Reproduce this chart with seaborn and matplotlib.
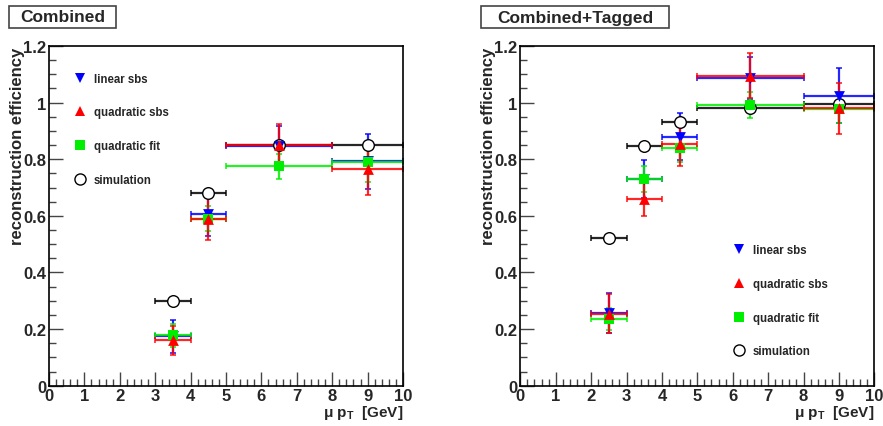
import numpy as np
import pandas as pd
import seaborn as sns
import matplotlib
matplotlib.use("Agg")
import matplotlib.pyplot as plt
from matplotlib.ticker import MultipleLocator
from matplotlib.lines import Line2D
from matplotlib.patches import Rectangle

# ---------------- data ----------------
left_lo = [3, 4, 5, 8]
left_hi = [4, 5, 8, 10]
left_linear = [0.175, 0.605, 0.848, 0.792]
left_linear_err = [0.058, 0.075, 0.07, 0.097]
left_quad = [0.160, 0.590, 0.850, 0.765]
left_quad_err = [0.050, 0.075, 0.075, 0.090]
left_fit = [0.178, 0.590, 0.775, 0.790]
left_fit_err = [0.040, 0.045, 0.045, 0.070]
left_sim = [0.300, 0.680, 0.850, 0.850]
left_sim_err = [0.004, 0.004, 0.004, 0.004]

right_lo = [2, 3, 4, 5, 8]
right_hi = [3, 4, 5, 8, 10]
right_linear = [0.257, 0.730, 0.880, 1.087, 1.025]
right_linear_err = [0.070, 0.067, 0.083, 0.073, 0.097]
right_quad = [0.255, 0.660, 0.853, 1.095, 0.980]
right_quad_err = [0.070, 0.060, 0.077, 0.080, 0.090]
right_fit = [0.235, 0.730, 0.840, 0.992, 0.978]
right_fit_err = [0.040, 0.046, 0.050, 0.047, 0.050]
right_sim = [0.520, 0.845, 0.932, 0.980, 0.995]
right_sim_err = [0.004, 0.004, 0.004, 0.004, 0.004]

series_names = ["linear sbs", "quadratic sbs", "quadratic fit", "simulation"]
panel_titles = ["Combined", "Combined+Tagged"]
x_label = r"$\mathbf{\mu}$ p$_\mathbf{T}$  [GeV]"
y_label = "reconstruction efficiency"

# ---------------- style ----------------
sns.set_style("white")
plt.rcParams["font.family"] = ["Liberation Sans", "DejaVu Sans"]
plt.rcParams["font.weight"] = "bold"
plt.rcParams["mathtext.fontset"] = "custom"
plt.rcParams["mathtext.rm"] = "Liberation Sans:bold"
plt.rcParams["mathtext.bf"] = "Liberation Sans:bold"
plt.rcParams["mathtext.it"] = "Liberation Sans:bold"

styles = {
    "linear sbs": dict(color="#0000ff", marker="v", face="#0000ff"),
    "quadratic sbs": dict(color="#ff0000", marker="^", face="#ff0000"),
    "quadratic fit": dict(color="#00ee00", marker="s", face="#00ee00"),
    "simulation": dict(color="black", marker="o", face="white"),
}

fig = plt.figure(figsize=(8.83, 4.27), dpi=100)
W, H = 883.0, 427.0
ax_left = fig.add_axes([49 / W, 1 - 386.7 / H, 354 / W, 339.7 / H])
ax_right = fig.add_axes([520.3 / W, 1 - 386.7 / H, 354 / W, 339.7 / H])


def build_df(lo, hi, vals):
    frames = []
    for name, (v, e) in zip(series_names, vals):
        lo_a = np.array(lo, float)
        hi_a = np.array(hi, float)
        frames.append(pd.DataFrame({
            "series": name,
            "x": (lo_a + hi_a) / 2,
            "xerr": (hi_a - lo_a) / 2,
            "y": v,
            "yerr": e,
        }))
    return pd.concat(frames, ignore_index=True)


def draw_panel(ax, df, order, legend_anchor):
    for name in order:
        st = styles[name]
        d = df[df["series"] == name]
        ax.errorbar(d["x"], d["y"], xerr=d["xerr"], yerr=d["yerr"],
                    fmt="none", ecolor=st["color"], elinewidth=1.6,
                    capsize=2, capthick=1.2, alpha=0.85, zorder=2)
    for name in order:
        st = styles[name]
        d = df[df["series"] == name]
        sns.scatterplot(data=d, x="x", y="y", ax=ax, marker=st["marker"],
                        color=st["face"], edgecolor=st["color"],
                        linewidth=1.0 if name == "simulation" else 0,
                        s=70 if name == "simulation" else 60,
                        zorder=3, legend=False)
    ax.set_xlim(0, 10)
    ax.set_ylim(0, 1.2)
    ax.xaxis.set_major_locator(MultipleLocator(1))
    ax.xaxis.set_minor_locator(MultipleLocator(0.2))
    ax.yaxis.set_major_locator(MultipleLocator(0.2))
    ax.yaxis.set_minor_locator(MultipleLocator(0.05))
    ax.yaxis.set_major_formatter(matplotlib.ticker.FuncFormatter(
        lambda v, p: "0" if abs(v) < 1e-9 else ("1" if abs(v - 1) < 1e-9 else f"{v:.1f}")))
    ax.tick_params(which="major", direction="in", length=10, width=1.0,
                   labelsize=12, color="#444444", pad=2,
                   bottom=True, left=True, top=False, right=False)
    ax.tick_params(which="minor", direction="in", length=5, width=1.0,
                   color="#444444", bottom=True, left=True, top=False, right=False)
    for lbl in ax.get_xticklabels() + ax.get_yticklabels():
        lbl.set_fontweight("bold")
    for sp in ax.spines.values():
        sp.set_visible(True)
        sp.set_color("black")
        sp.set_linewidth(1.2)
    ax.set_xlabel(x_label, fontsize=11, fontweight="bold", loc="right", labelpad=0)
    ax.set_ylabel(y_label, fontsize=12, fontweight="bold", loc="top")
    ax.yaxis.set_label_coords(-0.068, 0.997)

    handles = []
    for name in series_names:
        st = styles[name]
        handles.append(Line2D([], [], linestyle="none", marker=st["marker"],
                              markerfacecolor=st["face"], markeredgecolor=st["color"],
                              markeredgewidth=1.0 if name == "simulation" else 0,
                              markersize=8 if name == "simulation" else 7.5))
    leg = ax.legend(handles, series_names, loc="upper left", bbox_to_anchor=legend_anchor,
                    frameon=False, labelspacing=1.88, handletextpad=0.6,
                    handlelength=1.2, borderaxespad=0,
                    prop={"size": 8.3, "weight": "bold", "family": "Liberation Sans"})
    return leg


df_left = build_df(left_lo, left_hi,
                   [(left_linear, left_linear_err), (left_quad, left_quad_err),
                    (left_fit, left_fit_err), (left_sim, left_sim_err)])
df_right = build_df(right_lo, right_hi,
                    [(right_linear, right_linear_err), (right_quad, right_quad_err),
                     (right_fit, right_fit_err), (right_sim, right_sim_err)])

order = ["simulation", "linear sbs", "quadratic fit", "quadratic sbs"]
draw_panel(ax_left, df_left, order, (0.055, 0.935))
draw_panel(ax_right, df_right, order, (0.585, 0.430))

# title boxes
for (x0, x1), title in zip([(9, 116), (481, 669)], panel_titles):
    fig.patches.append(Rectangle((x0 / W, 1 - 29 / H), (x1 - x0) / W, 22 / H,
                                 transform=fig.transFigure, facecolor="white",
                                 edgecolor="#444444", linewidth=1.2, zorder=1))
    fig.text((x0 + x1) / 2 / W, 1 - 18 / H, title, ha="center", va="center",
             fontsize=12.5, fontweight="bold", zorder=2)

fig.savefig("out.png", dpi=100, facecolor="white")
